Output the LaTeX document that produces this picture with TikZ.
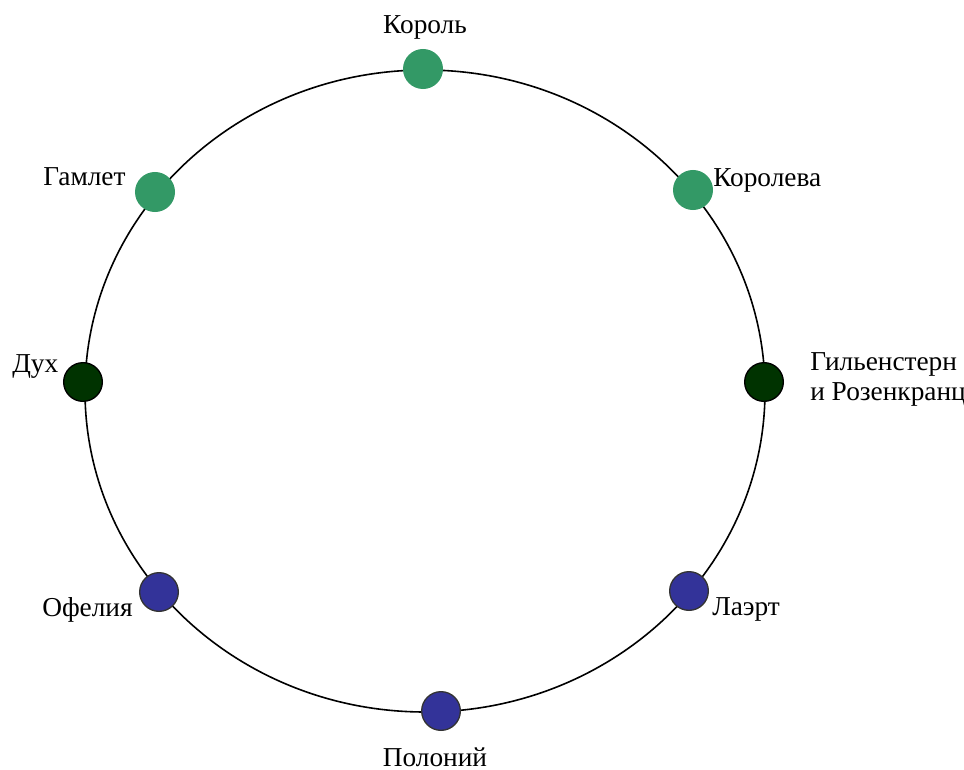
\documentclass[tikz,border=0pt]{standalone}
\usepackage{fontspec}
\setmainfont{Liberation Serif}
\usetikzlibrary{positioning}

\definecolor{courtgreen}{HTML}{339966}
\definecolor{spiritgreen}{HTML}{003300}
\definecolor{familyblue}{HTML}{333399}

\begin{document}
\begin{tikzpicture}[
  x=0.75pt, y=-0.75pt,
  dot/.style={circle, line width=1pt, minimum size=29pt, inner sep=0pt},
  court/.style={dot, fill=courtgreen, draw=courtgreen},
  spirit/.style={dot, fill=spiritgreen, draw=black},
  family/.style={dot, fill=familyblue, draw=black!80},
  charname/.style={anchor=base west, inner sep=0pt, font=\fontsize{20.5}{22.5}\selectfont, align=left}
]
  \useasboundingbox (0,0) rectangle (964,770);

  % the ring
  \draw[line width=1.2pt] (425,391) ellipse [x radius=255pt, y radius=240.75pt];

  % characters
  \node[court]  (korol)    at (423,69)  {};
  \node[court]  (koroleva) at (693,190) {};
  \node[court]  (gamlet)   at (155,192) {};
  \node[spirit] (duh)      at (83,382)  {};
  \node[spirit] (gilden)   at (764,382) {};
  \node[family] (ofelia)   at (159,592) {};
  \node[family] (laert)    at (689,591) {};
  \node[family] (polonii)  at (441,711) {};

  % names
  \node[charname, anchor=base] (korolT) at (425,34) {Король};
  \node[charname] (korolevaT) at (713,187) {Королева};
  \node[charname] (gamletT)   at (43,186)  {Гамлет};
  \node[charname] (duhT)      at (12,372)  {Дух};
  \node[charname, anchor=west] (gildenT) at (810,379) {Гильенстерн\\и Розенкранц};
  \node[charname] (ofeliaT)   at (42,616)  {Офелия};
  \node[charname] (laertT)    at (712,615) {Лаэрт};
  \node[charname, anchor=base] (poloniiT) at (435,766) {Полоний};
\end{tikzpicture}
\end{document}
